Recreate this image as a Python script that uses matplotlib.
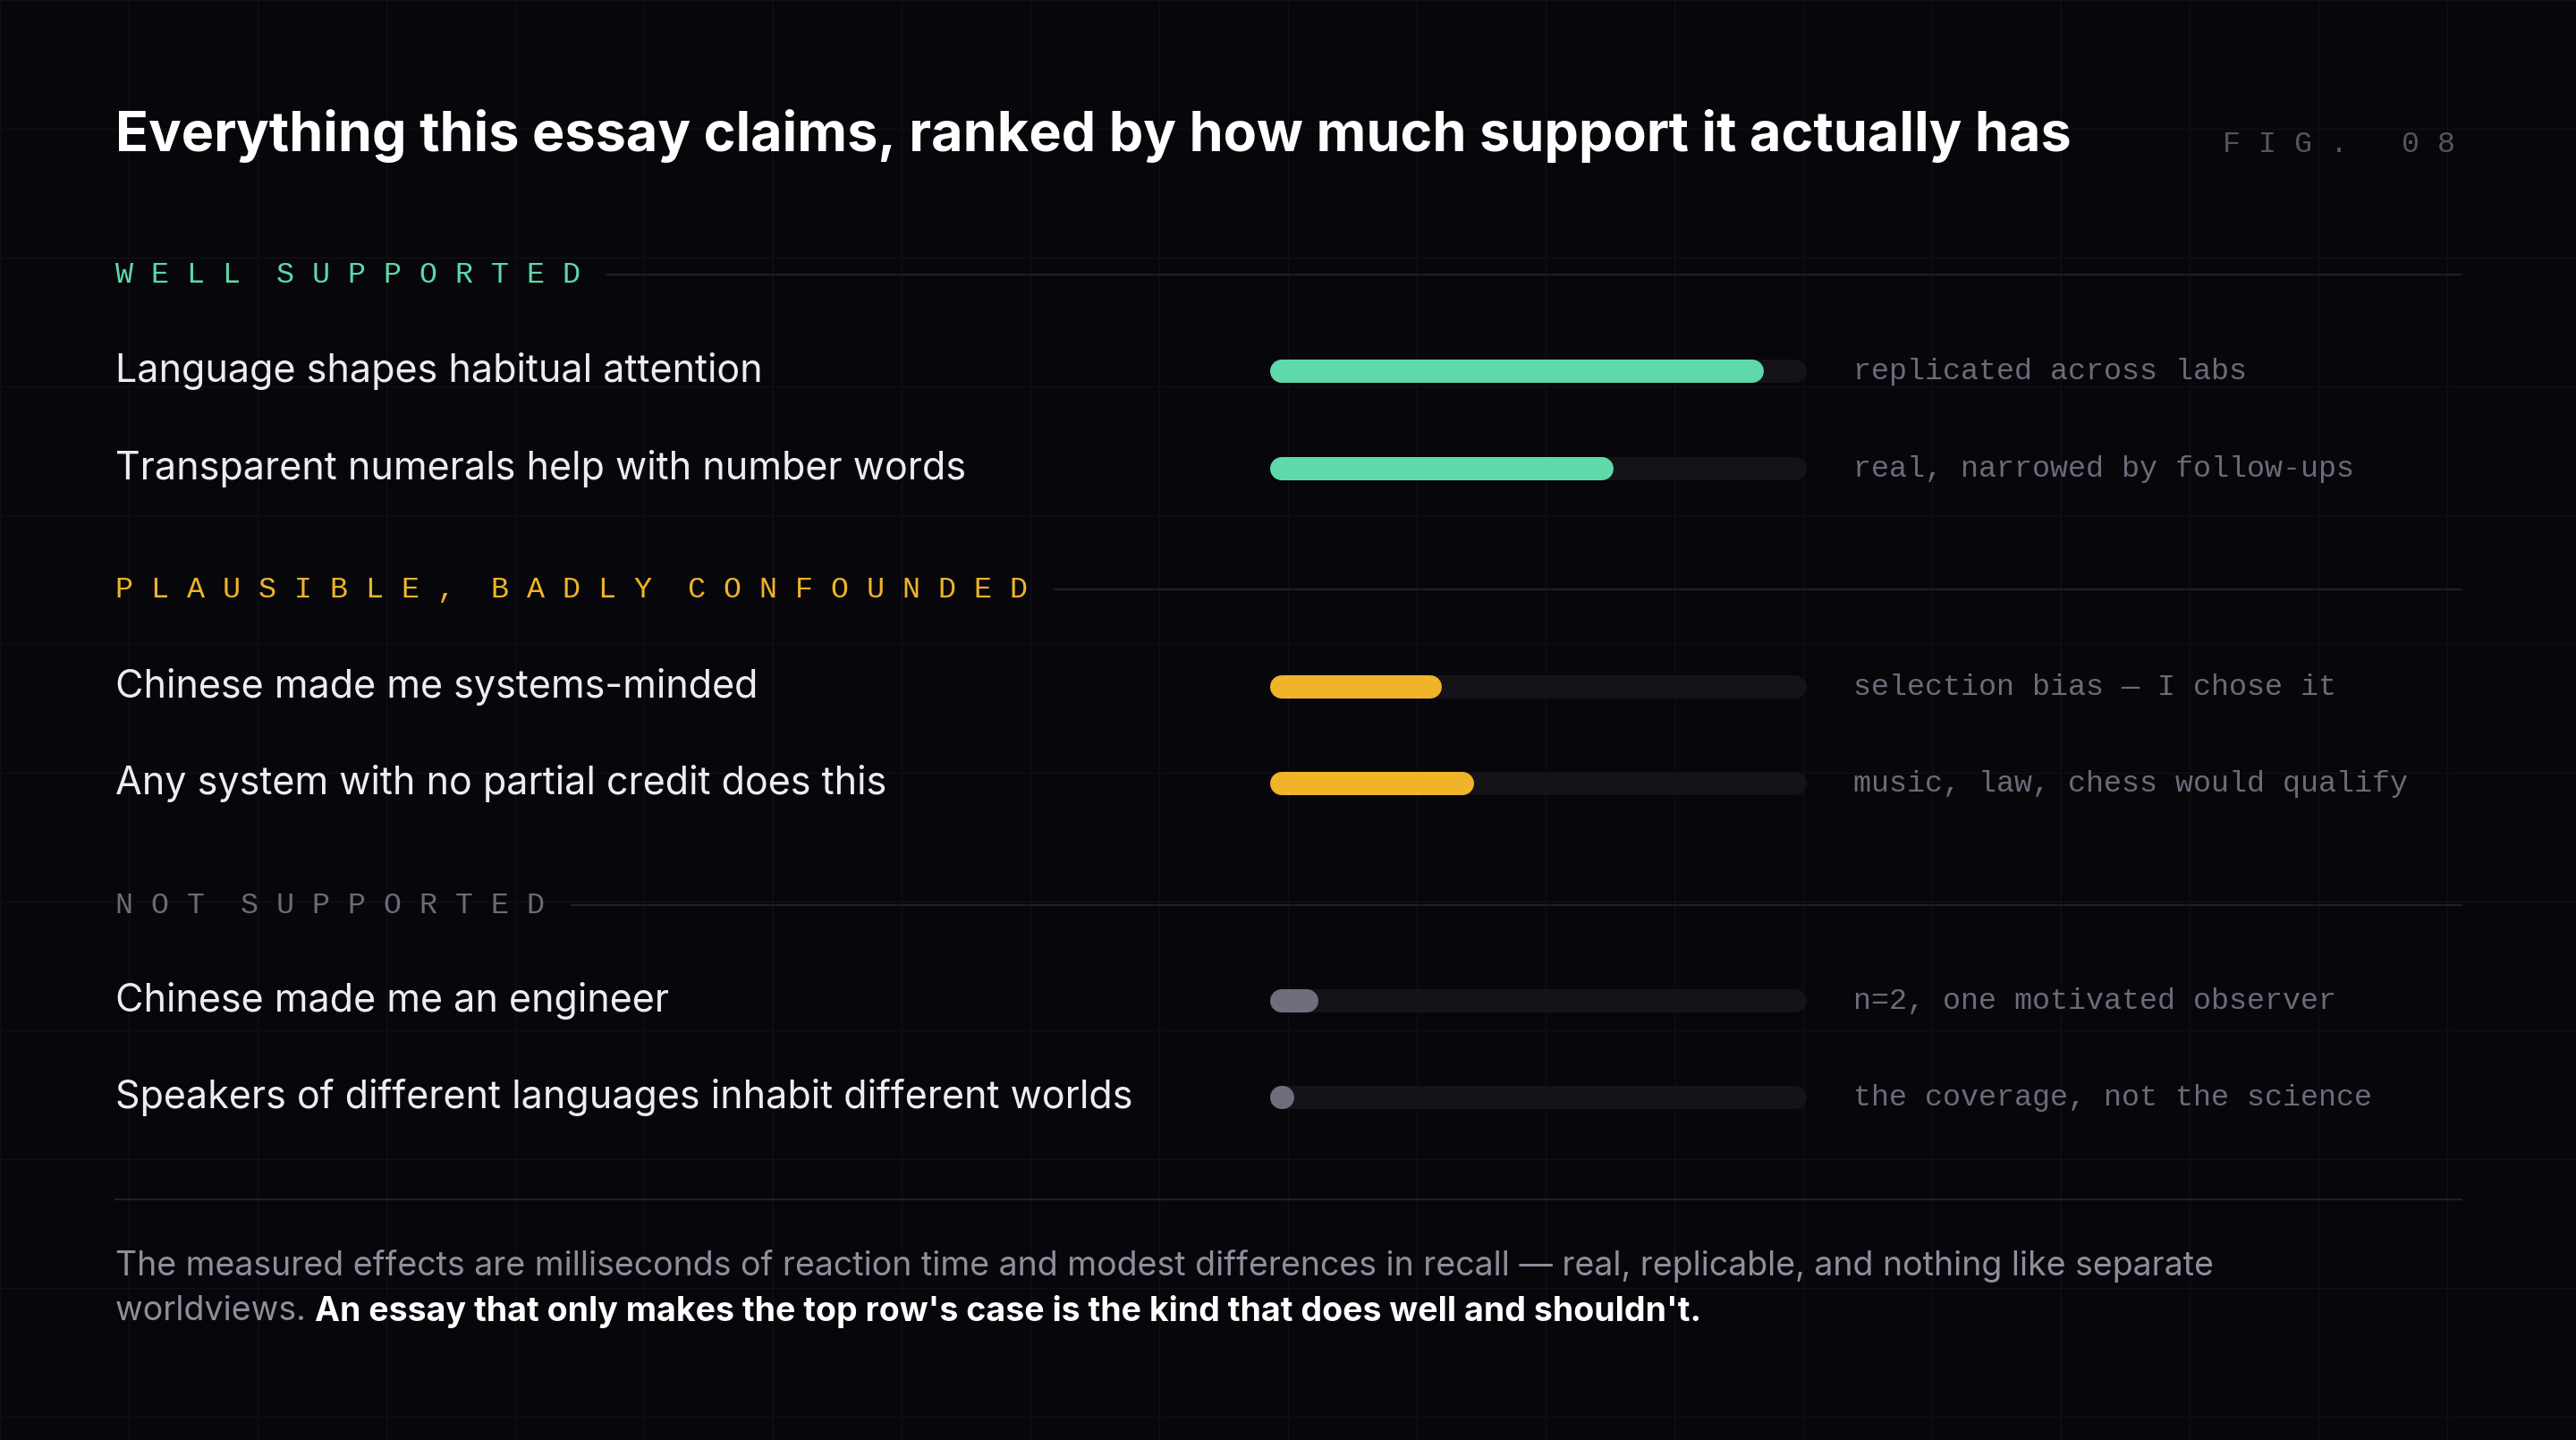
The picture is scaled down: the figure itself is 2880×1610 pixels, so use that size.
import matplotlib
matplotlib.use('Agg')
import matplotlib.pyplot as plt
from matplotlib.lines import Line2D

# --- dati ---
title = "Everything this essay claims, ranked by how much support it actually has"
fig_tag = "F I G .   0 8"
sections = ["WELL SUPPORTED", "PLAUSIBLE, BADLY CONFOUNDED", "NOT SUPPORTED"]
section_colors = ["#5dd9aa", "#f0b429", "#6b6b78"]
bar_colors = ["#5dd9aa", "#f0b429", "#6e6e7c"]
claims = [
    ["Language shapes habitual attention", "Transparent numerals help with number words"],
    ["Chinese made me systems-minded", "Any system with no partial credit does this"],
    ["Chinese made me an engineer", "Speakers of different languages inhabit different worlds"],
]
support = [[0.92, 0.64], [0.32, 0.38], [0.09, 0.04]]
notes = [
    ["replicated across labs", "real, narrowed by follow-ups"],
    ["selection bias \u2014 I chose it", "music, law, chess would qualify"],
    ["n=2, one motivated observer", "the coverage, not the science"],
]
footer1 = ("The measured effects are milliseconds of reaction time and modest differences in recall "
           "\u2014 real, replicable, and nothing like separate")
footer2a = "worldviews. "
footer2b = "An essay that only makes the top row's case is the kind that does well and shouldn't."

W, H = 2880, 1610
BG = "#07070b"
SANS = ["Inter", "DejaVu Sans"]
MONO = ["Liberation Mono", "DejaVu Sans Mono"]

fig = plt.figure(figsize=(W / 100, H / 100), dpi=100, facecolor=BG)
ax = fig.add_axes([0, 0, 1, 1])
ax.set_xlim(0, W)
ax.set_ylim(H, 0)
ax.axis('off')
ax.set_facecolor(BG)

# griglia di sfondo
for gx in range(0, W, 144):
    ax.axvline(gx, color="#0f0f14", lw=1, zorder=0)
for gy in range(0, H, 144):
    ax.axhline(gy, color="#0f0f14", lw=1, zorder=0)

L, R = 129, 2752
ax.text(L, 152, title, color="white", fontsize=44, fontweight='bold', family=SANS, va='center')
ax.text(2745, 162, fig_tag, color="#55555f", fontsize=24, family=MONO, va='center', ha='right')

fig.canvas.draw()
rend = fig.canvas.get_renderer()
inv = ax.transData.inverted()

sec_y = [307, 659, 1012]
row_y = [[415, 524], [768, 876], [1119, 1227]]
bx0, bx1 = 1420, 2020
bh = 26
lw_pt = bh * 72 / 100

for s, name in enumerate(sections):
    t = ax.text(L, sec_y[s], "  ".join(" ".join(w) for w in name.split(" ")),
                color=section_colors[s], fontsize=24, family=MONO, va='center')
    ext = t.get_window_extent(rend)
    xe = inv.transform((ext.x1, 0))[0]
    ax.plot([xe + 30, R], [sec_y[s], sec_y[s]], color="#1f1f26", lw=1.5)
    for i in range(2):
        y = row_y[s][i]
        ax.text(L, y, claims[s][i], color="#ececf2", fontsize=31, family=SANS, va='center')
        # track
        ax.add_line(Line2D([bx0 + bh / 2, bx1 - bh / 2], [y, y], color="#131318", lw=lw_pt,
                           solid_capstyle='round'))
        xend = bx0 + support[s][i] * (bx1 - bx0)
        ax.add_line(Line2D([bx0 + bh / 2, max(xend - bh / 2, bx0 + bh / 2 + 0.5)], [y, y],
                           color=bar_colors[s], lw=lw_pt, solid_capstyle='round'))
        ax.text(2072, y, notes[s][i], color="#6b6b7a", fontsize=24, family=MONO, va='center')

ax.plot([L, R], [1341, 1341], color="#1f1f26", lw=1.5)
ax.text(L, 1416, footer1, color="#8e8e9c", fontsize=27, family=SANS, va='center')
t = ax.text(L, 1466, footer2a, color="#8e8e9c", fontsize=27, family=SANS, va='center')
ext = t.get_window_extent(rend)
xe = inv.transform((ext.x1, 0))[0]
ax.text(xe, 1466, footer2b, color="white", fontsize=27, fontweight='bold', family=SANS, va='center')

fig.savefig("out.png", dpi=100, facecolor=BG)
